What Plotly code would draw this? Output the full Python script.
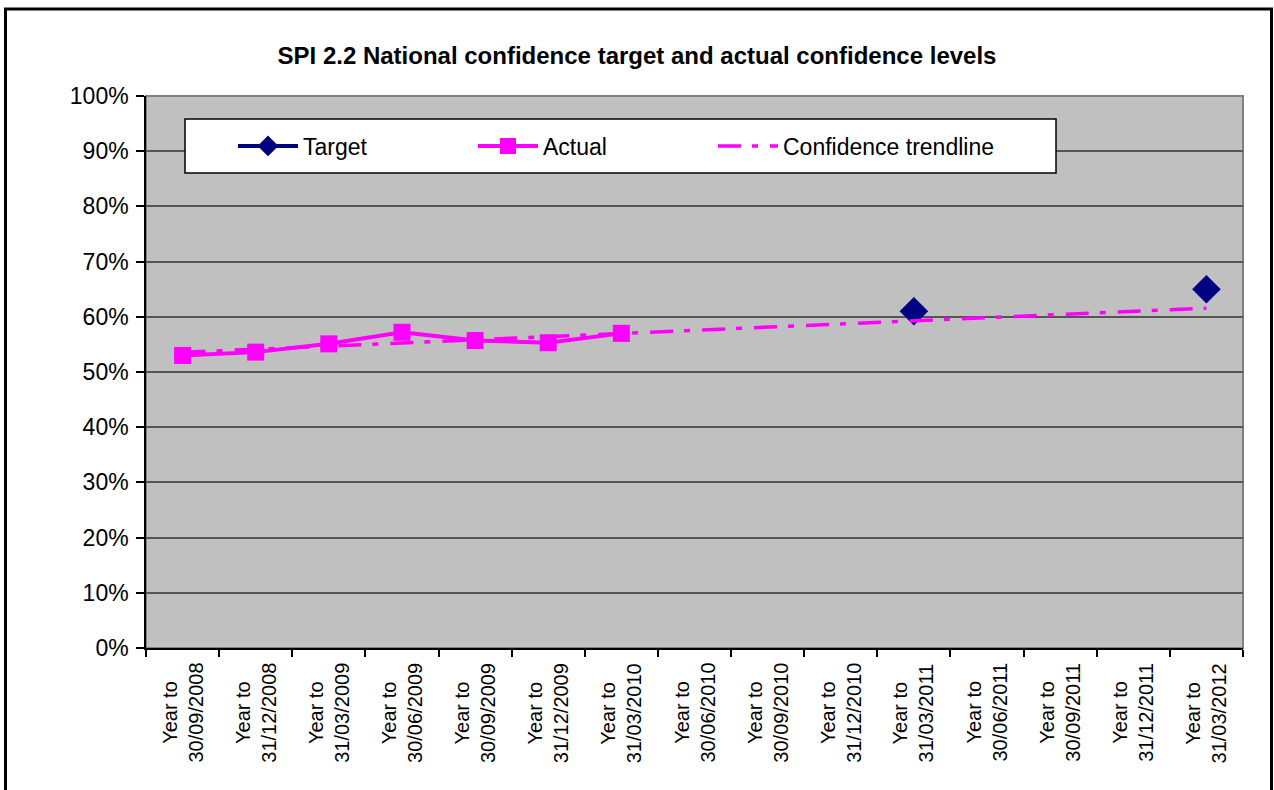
import numpy as np
import plotly.graph_objects as go

# ---- data ----
categories = [
    "Year to<br>30/09/2008", "Year to<br>31/12/2008", "Year to<br>31/03/2009",
    "Year to<br>30/06/2009", "Year to<br>30/09/2009", "Year to<br>31/12/2009",
    "Year to<br>31/03/2010", "Year to<br>30/06/2010", "Year to<br>30/09/2010",
    "Year to<br>31/12/2010", "Year to<br>31/03/2011", "Year to<br>30/06/2011",
    "Year to<br>30/09/2011", "Year to<br>31/12/2011", "Year to<br>31/03/2012",
]
target = [None, None, None, None, None, None, None, None, None, None,
          0.61, None, None, None, 0.65]
actual = [0.530, 0.536, 0.551, 0.572, 0.557, 0.553, 0.570]
y_ticks = [0, 0.1, 0.2, 0.3, 0.4, 0.5, 0.6, 0.7, 0.8, 0.9, 1.0]

# linear trendline fitted to the actual values, extended over all periods
idx_actual = np.arange(len(actual))
slope, intercept = np.polyfit(idx_actual, actual, 1)
trend = [float(intercept + slope * i) for i in range(len(categories))]

# ---- layout geometry (pixels) ----
W, H = 1274, 790
L, R, T, B = 146, 31, 96, 142
pw, ph = W - L - R, H - T - B

def px_x(px):
    return (px - L) / pw

def px_y(py):
    return (H - B - py) / ph

FONT = "Arial, 'Liberation Sans', sans-serif"
NAVY = "#000080"
MAGENTA = "#FF00FF"

fig = go.Figure()
fig.add_trace(go.Scatter(
    x=categories, y=target, name="Target", mode="lines+markers",
    line=dict(color=NAVY, width=4),
    marker=dict(symbol="diamond", size=22, color=NAVY),
    connectgaps=False, legendrank=1,
))
fig.add_trace(go.Scatter(
    x=categories, y=trend, name="Confidence trendline", mode="lines",
    line=dict(color=MAGENTA, width=3.5, dash="23px,11px,6px,12px"),
    legendrank=3, legendwidth=320,
))
fig.add_trace(go.Scatter(
    x=categories[:len(actual)], y=actual, name="Actual", mode="lines+markers",
    line=dict(color=MAGENTA, width=4),
    marker=dict(symbol="square", size=17, color=MAGENTA),
    legendrank=2,
))

# x tick labels as centred, rotated text
for c in categories:
    fig.add_annotation(
        x=c, xref="x", y=px_y(662), yref="paper",
        text=c, textangle=-90, showarrow=False,
        xanchor="center", yanchor="top", align="center",
        font=dict(family=FONT, size=20, color="black"),
        borderpad=0,
    )

shapes = [
    # plot area border (top/right grey)
    dict(type="rect", xref="paper", yref="paper", x0=0, x1=1, y0=0, y1=1,
         line=dict(color="#808080", width=2), layer="below"),
    # legend box
    dict(type="rect", xref="paper", yref="paper",
         x0=px_x(185), x1=px_x(1056), y0=px_y(173), y1=px_y(119),
         fillcolor="white", line=dict(color="black", width=1.5), layer="above"),
    # outer chart border
    dict(type="rect", xref="paper", yref="paper",
         x0=px_x(5.5), x1=px_x(1271.5), y0=px_y(800), y1=px_y(9),
         line=dict(color="black", width=3), layer="above"),
]

fig.update_layout(
    width=W, height=H,
    margin=dict(l=L, r=R, t=T, b=B, pad=0),
    paper_bgcolor="white", plot_bgcolor="#C0C0C0",
    font=dict(family=FONT, color="black"),
    title=dict(
        text="SPI 2.2 National confidence target and actual confidence levels",
        x=0.5, xref="container", xanchor="center",
        y=1 - 56 / H, yref="container", yanchor="middle",
        font=dict(family=FONT, size=24, color="black", weight="bold"),
    ),
    showlegend=True,
    legend=dict(
        orientation="h", x=px_x(233), xanchor="left",
        y=px_y(146), yanchor="middle",
        bgcolor="rgba(0,0,0,0)", borderwidth=0,
        font=dict(family=FONT, size=23, color="black"),
        itemwidth=60, entrywidth=165, entrywidthmode="pixels",
        traceorder="normal",
    ),
    xaxis=dict(
        type="category", range=[-0.5, len(categories) - 0.5],
        showgrid=False, showticklabels=False,
        showline=True, linecolor="black", linewidth=1.5,
        ticks="outside", ticklen=7, tickcolor="black", tickwidth=1.5,
        tickson="boundaries", zeroline=False,
    ),
    yaxis=dict(
        range=[0, 1], tickvals=y_ticks, tickformat=".0%",
        showgrid=True, gridcolor="#555555", gridwidth=1.5,
        showline=True, linecolor="black", linewidth=1.5,
        ticks="outside", ticklen=8, tickcolor="black", tickwidth=1.5,
        tickfont=dict(family=FONT, size=23, color="black"),
        ticklabelstandoff=3,
        zeroline=False,
    ),
    shapes=shapes,
)

fig.write_html(
    "out.html",
    config={"displayModeBar": False},
    post_script="document.body.style.margin='0';document.body.style.overflow='hidden';",
)
